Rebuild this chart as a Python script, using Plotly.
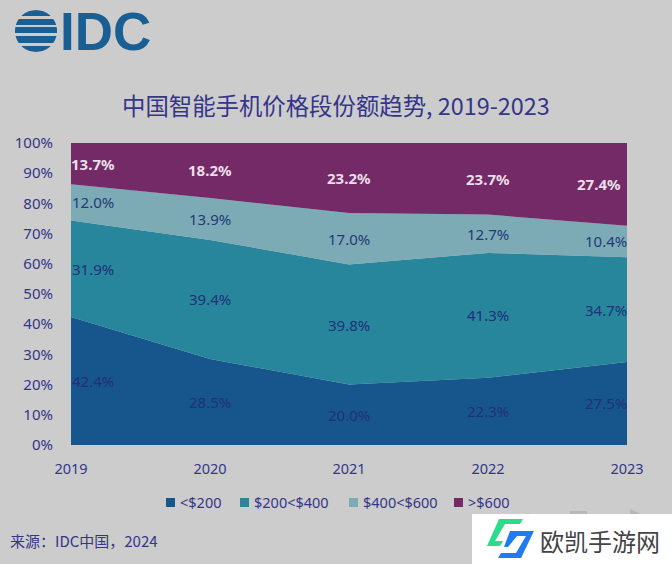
import math
import plotly.graph_objects as go

years = [2019, 2020, 2021, 2022, 2023]
under_200 = [42.4, 28.5, 20.0, 22.3, 27.5]
from_200_400 = [31.9, 39.4, 39.8, 41.3, 34.7]
from_400_600 = [12.0, 13.9, 17.0, 12.7, 10.4]
over_600 = [13.7, 18.2, 23.2, 23.7, 27.4]
series_names = ["<$200", "$200<$400", "$400<$600", ">$600"]
y_ticks = [0, 10, 20, 30, 40, 50, 60, 70, 80, 90, 100]

W, H = 672, 564
LEFT, RIGHT, TOP, BOTTOM = 71, 627, 143, 445
BG = "#cccccc"
NAVY = "#35358a"
FONT = "Noto Sans, Noto Sans CJK SC, sans-serif"
CJK = "Noto Sans CJK SC, sans-serif"
colors = ["#17568c", "#27869b", "#7dabb5", "#742a66"]
label_colors = ["#20307a", "#20307a", "#1f3a78", "#eadfe8"]
all_series = [under_200, from_200_400, from_400_600, over_600]


# pixel position -> paper coords
def px(x):
    return (x - LEFT) / (RIGHT - LEFT)


def py(y):
    return (BOTTOM - y) / (BOTTOM - TOP)


def text(x, y, s, size=15, color=NAVY, anchor="left", font=FONT):
    return dict(x=px(x), y=py(y), xref="paper", yref="paper", text=s, showarrow=False,
                xanchor=anchor, yanchor="middle", font=dict(size=size, color=color, family=font))


def rect(x0, y0, x1, y1, color):
    return dict(type="rect", xref="paper", yref="paper", x0=px(x0), x1=px(x1), y0=py(y0), y1=py(y1),
                fillcolor=color, line=dict(width=0), layer="above")


def path(points, color):
    d = "M " + " L ".join(f"{px(a):.4f},{py(b):.4f}" for a, b in points) + " Z"
    return dict(type="path", xref="paper", yref="paper", path=d, fillcolor=color,
                line=dict(width=0), layer="above")


fig = go.Figure()
for name, vals, col in zip(series_names, all_series, colors):
    fig.add_trace(go.Scatter(x=years, y=vals, name=name, mode="lines", stackgroup="one",
                             line=dict(width=0, color=col), fillcolor=col, showlegend=False))

annotations = []

# data labels sit in the middle of each band
offsets = {2019: 22, 2023: -21}
base = [0] * len(years)
for vals, col in zip(all_series, label_colors):
    top_band = col == label_colors[3]
    for i, v in enumerate(vals):
        label = f"<b>{v:.1f}%</b>" if top_band else f"{v:.1f}%"
        shift = offsets.get(years[i], 0)
        if top_band and years[i] == 2023:
            shift = -28
        annotations.append(dict(x=years[i], y=base[i] + v / 2, text=label, showarrow=False, xshift=shift,
                                font=dict(size=15, color=col, family=FONT)))
        base[i] += v

# title, source
annotations.append(text(335.5, 105, "中国智能手机价格段份额趋势, 2019-2023", size=23.4, anchor="center", font=CJK))
annotations.append(text(8, 540, "来源：IDC中国，2024", size=15, font=CJK))

# legend
legend_x = [166, 240, 349, 454]
shapes = []
for name, col, lx in zip(series_names, colors, legend_x):
    shapes.append(rect(lx, 498, lx + 9, 507, col))
    annotations.append(text(lx + 12, 502, name.replace("<", "&lt;"), size=14.5))

# IDC logo, globe made of bands cut to a circle
LOGO = "#1a5f94"
cx, cy, r = 36, 31, 21
for y0, y1 in [(10, 16), (19, 25), (27, 33), (36, 43), (46, 52)]:
    pts = []
    steps = [y0 + (y1 - y0) * k / 6 for k in range(7)]
    for y in steps:
        pts.append((cx + math.sqrt(max(r ** 2 - (y - cy) ** 2, 0)), y))
    for y in reversed(steps):
        pts.append((cx - math.sqrt(max(r ** 2 - (y - cy) ** 2, 0)), y))
    shapes.append(path(pts, LOGO))
annotations.append(text(58, 31, "<b>IDC</b>", size=53, color=LOGO, font="Liberation Sans, sans-serif"))

# watermark
shapes.append(path([(530, 513), (520, 518), (530, 518)], "#b8b8b8"))
shapes.append(rect(570, 511, 587, 518, "#b8b8b8"))
shapes.append(path([(630, 509), (650, 518), (630, 518)], "#b8b8b8"))
shapes.append(rect(472, 514, 672, 564, "#ffffff"))
shapes.append(path([(499, 519), (523, 519), (520, 524), (505, 524), (495, 541), (503, 541), (500, 546), (487, 546)], "#2bdc8c"))
shapes.append(path([(510, 531), (534, 531), (521, 558), (498, 558), (501, 553), (516, 553), (526, 536), (517, 536), (508, 547), (504, 547)], "#1f7bf2"))
annotations.append(text(538, 540, "欧凯手游网", size=24, color="#444444", font=CJK))

fig.update_layout(
    width=W, height=H,
    margin=dict(l=LEFT, r=W - RIGHT, t=TOP, b=H - BOTTOM, pad=0),
    paper_bgcolor=BG, plot_bgcolor=BG,
    font=dict(family=FONT, size=15, color=NAVY),
    annotations=annotations, shapes=shapes,
    xaxis=dict(range=[2019, 2023], tickmode="array", tickvals=years, showgrid=False, zeroline=False,
               ticks="outside", ticklen=11, tickcolor="rgba(0,0,0,0)", tickfont=dict(size=14.5, color=NAVY)),
    yaxis=dict(range=[0, 100], tickmode="array", tickvals=y_ticks, ticktext=[f"{t}%" for t in y_ticks],
               showgrid=False, zeroline=False, ticks="outside", ticklen=14, tickcolor="rgba(0,0,0,0)",
               tickfont=dict(size=15, color=NAVY)),
)

# page margin would push the figure 8px off the window
fig.write_html("out.html", config={"displayModeBar": False},
               post_script="document.body.style.margin='0';document.documentElement.style.overflow='hidden';")
